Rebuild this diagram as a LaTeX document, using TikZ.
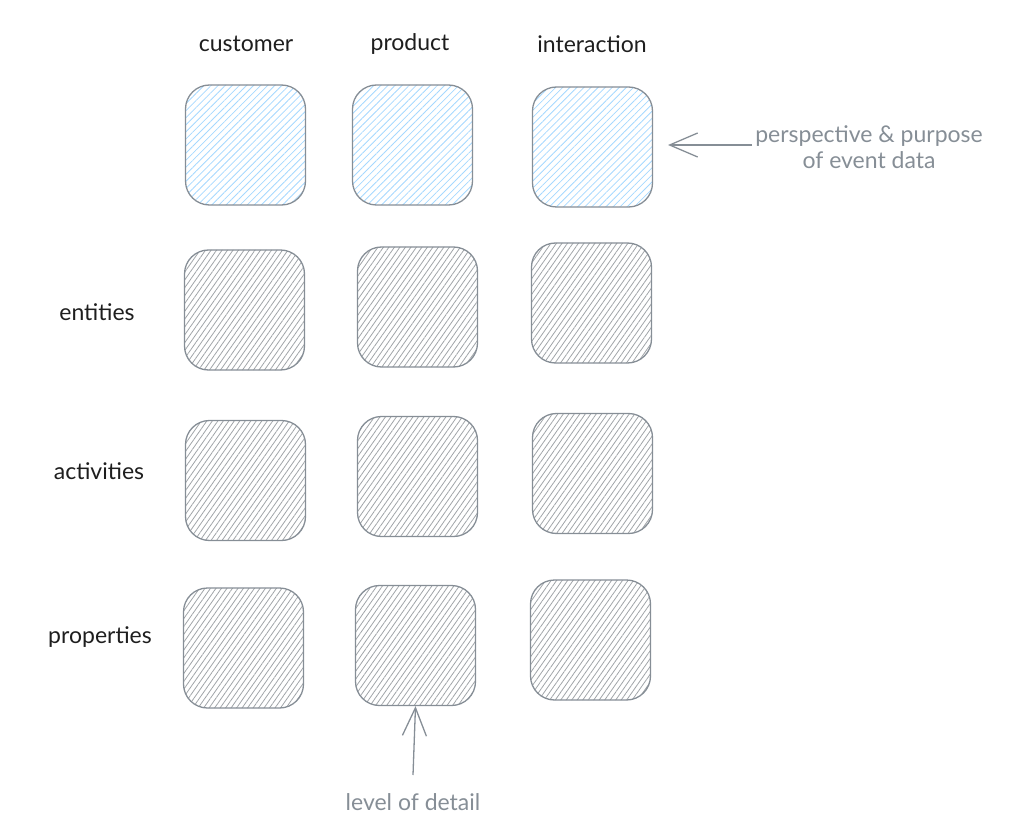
\documentclass[tikz,border=0pt]{standalone}
\usepackage{fontspec}
\setmainfont{Lato}
\usetikzlibrary{patterns.meta,arrows.meta}
\definecolor{strokegray}{HTML}{868E96}
\definecolor{hatchblue}{HTML}{A5D8FF}
\definecolor{hatchgray}{HTML}{A0A4A8}
\definecolor{inkblack}{HTML}{1E1E1E}
\tikzset{
  cell/.style={draw=strokegray, line width=1.3pt, rounded corners=24pt,
    minimum width=120pt, minimum height=120pt, inner sep=0pt},
  bluecell/.style={cell, pattern={Lines[angle=45,distance=5pt,line width=0.8pt]}, pattern color=hatchblue},
  graycell/.style={cell, pattern={Lines[angle=55,distance=4.5pt,line width=0.8pt]}, pattern color=hatchgray},
  head/.style={text=inkblack, font=\fontsize{23}{27}\selectfont},
  note/.style={text=strokegray, font=\fontsize{23}{26}\selectfont, align=center},
  pointer/.style={draw=strokegray, line width=1.3pt, -{Straight Barb[length=28pt,width=24pt]}}
}
\begin{document}
\begin{tikzpicture}[x=1pt,y=-1pt]
\useasboundingbox (0,0) rectangle (1036,834);
% column headers
\node[head] (hcust) at (246,44) {customer};
\node[head] (hprod) at (410,44) {product};
\node[head] (hint) at (592,44) {interaction};
% row labels
\node[head] (lent) at (97,312) {entities};
\node[head] (lact) at (99,471) {activities};
\node[head] (lprop) at (100,637) {properties};
% row 1
\node[bluecell] (b11) at (245.5,145) {};
\node[bluecell] (b12) at (412.5,145) {};
\node[bluecell] (b13) at (592.5,147) {};
% row 2
\node[graycell] (b21) at (244.5,310) {};
\node[graycell] (b22) at (417.5,307) {};
\node[graycell] (b23) at (591.5,303) {};
% row 3
\node[graycell] (b31) at (245.5,480.5) {};
\node[graycell] (b32) at (417.5,476.5) {};
\node[graycell] (b33) at (592.5,473.5) {};
% row 4
\node[graycell] (b41) at (243.5,648) {};
\node[graycell] (b42) at (415.5,645.5) {};
\node[graycell] (b43) at (590.5,640) {};
% annotations
\node[note] (persp) at (869,147) {perspective \& purpose\\of event data};
\coordinate (pstart) at (752,145);
\draw[pointer] (pstart) -- (668,145);
\node[note] (detail) at (413,802) {level of detail};
\coordinate (dstart) at (413,775);
\draw[pointer] (dstart) -- (b42.south);
\end{tikzpicture}
\end{document}
